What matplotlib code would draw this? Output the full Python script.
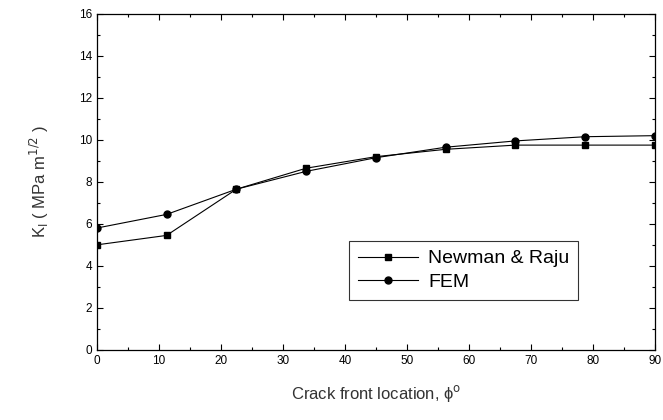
import matplotlib
matplotlib.use("Agg")
from matplotlib import pyplot as plt
from matplotlib.ticker import MultipleLocator

plt.rcParams['font.family'] = ['Liberation Sans', 'DejaVu Sans']

# crack front angle (deg)
phi = [0, 11.25, 22.5, 33.75, 45, 56.25, 67.5, 78.75, 90]
newman_raju = [5.0, 5.45, 7.65, 8.65, 9.2, 9.55, 9.75, 9.75, 9.75]
fem = [5.8, 6.45, 7.65, 8.5, 9.15, 9.65, 9.95, 10.15, 10.2]

fig = plt.figure(figsize=(6.63, 4.2), dpi=100)
ax = fig.add_axes([0.146, 0.167, 0.842, 0.80])

ax.plot(phi, newman_raju, color='black', lw=0.8, marker='s', ms=5, label='Newman & Raju')
ax.plot(phi, fem, color='black', lw=0.8, marker='o', ms=5, label='FEM')

ax.set_xlim(0, 90)
ax.set_ylim(0, 16)
ax.xaxis.set_major_locator(MultipleLocator(10))
ax.xaxis.set_minor_locator(MultipleLocator(5))
ax.yaxis.set_major_locator(MultipleLocator(2))
ax.yaxis.set_minor_locator(MultipleLocator(1))
ax.tick_params(which='both', direction='in', top=True, right=True, labelsize=8.5, width=0.8)
ax.tick_params(which='major', length=4)
ax.tick_params(which='minor', length=2.5)
for s in ax.spines.values():
    s.set_linewidth(0.9)

ax.set_xlabel('Crack front location, ϕ$^{\\mathrm{o}}$', fontsize=12, color='#333333', labelpad=12)
ax.set_ylabel('K$_\\mathrm{I}$ ( MPa m$^{1/2}$ )', fontsize=12, color='#333333', labelpad=20)

leg = ax.legend(loc='upper left', bbox_to_anchor=(0.452, 0.324), borderaxespad=0, fontsize=14,
                frameon=True, fancybox=False, edgecolor='black', handlelength=3.1,
                borderpad=0.45, labelspacing=0.3, handletextpad=0.5)
leg.get_frame().set_linewidth(0.8)

fig.savefig('out.png', dpi=100)
